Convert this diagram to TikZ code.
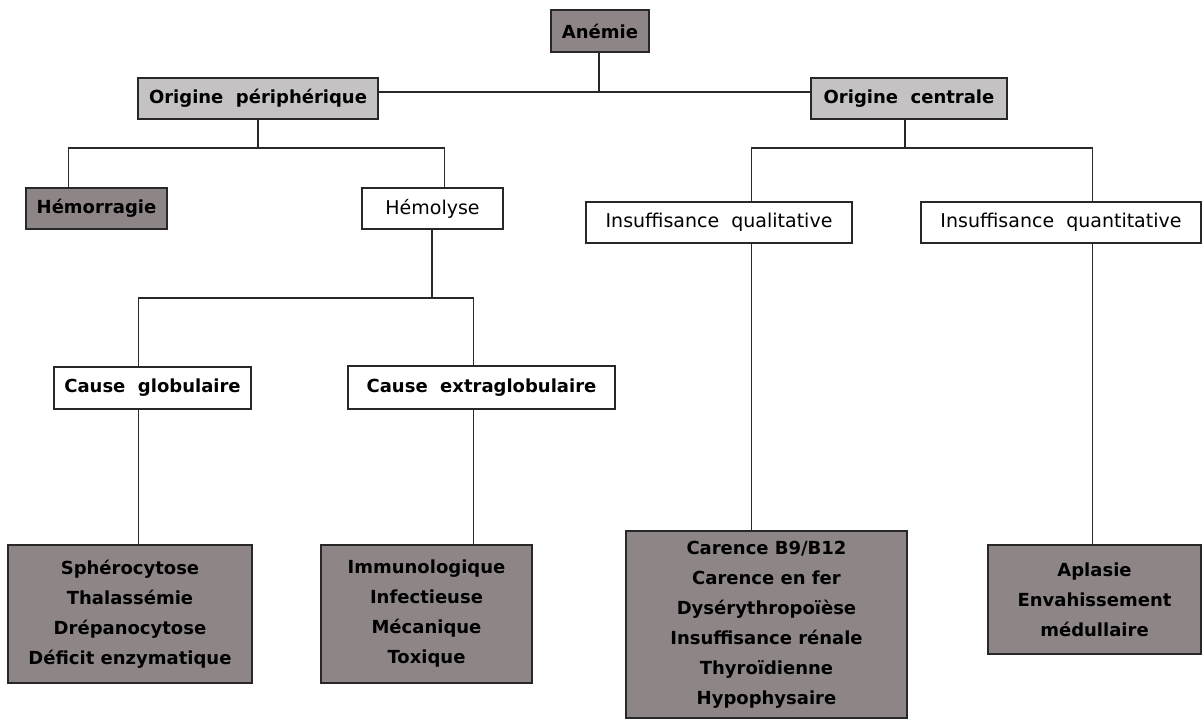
\documentclass[tikz,border=0pt]{standalone}
\usepackage{fontspec}
\usetikzlibrary{calc}
\setmainfont{DejaVu Sans}
\definecolor{darkbox}{RGB}{142,134,134}
\definecolor{lightbox}{RGB}{196,194,194}
\definecolor{linec}{RGB}{40,40,40}
\begin{document}
\begin{tikzpicture}[x=1pt,y=-1pt,
  box/.style={draw=linec,line width=1.4pt,rectangle,inner sep=0pt,align=center,text=black},
  darkb/.style={box,fill=darkbox,font=\fontsize{18}{30}\selectfont\bfseries},
  lightb/.style={box,fill=lightbox,font=\fontsize{18}{30}\selectfont\bfseries},
  whiteb/.style={box,fill=white,font=\fontsize{19}{30}\selectfont},
  causeb/.style={box,fill=white,font=\fontsize{18}{30}\selectfont\bfseries},
  listb/.style={box,fill=darkbox,font=\fontsize{18}{30}\selectfont\bfseries},
  conn/.style={draw=linec,line width=1.1pt}]
\useasboundingbox (0,0) rectangle (1203,719);
\fill[white] (0,0) rectangle (1203,719);

\node[darkb,minimum width=98pt,minimum height=42pt] (anemie) at (600,31) {Anémie};
\node[lightb,minimum width=240pt,minimum height=41pt] (operi) at (258,98.5) {Origine\ \ périphérique};
\node[lightb,minimum width=196pt,minimum height=41pt] (ocent) at (909,98.5) {Origine\ \ centrale};
\node[darkb,minimum width=141pt,minimum height=41pt] (hemor) at (96.5,208.5) {Hémorragie};
\node[whiteb,minimum width=141pt,minimum height=41pt] (hemol) at (432.5,208.5) {Hémolyse};
\node[whiteb,minimum width=266pt,minimum height=41pt] (iqual) at (719,222.5) {Insuffisance\ \ qualitative};
\node[whiteb,minimum width=280pt,minimum height=41pt] (iquant) at (1061,222.5) {Insuffisance\ \ quantitative};
\node[causeb,minimum width=197pt,minimum height=42pt] (cglob) at (152.5,388) {Cause\ \ globulaire};
\node[causeb,minimum width=267pt,minimum height=43pt] (cextra) at (481.5,387.5) {Cause\ \ extraglobulaire};
\node[listb,minimum width=244pt,minimum height=138pt] (sphero) at (130,614) {Sphérocytose\\Thalassémie\\Drépanocytose\\Déficit\ enzymatique};
\node[listb,minimum width=211pt,minimum height=138pt] (immuno) at (426.5,614) {Immunologique\\Infectieuse\\Mécanique\\Toxique};
\node[listb,minimum width=281pt,minimum height=187pt] (carence) at (766.5,624.5) {Carence\ B9/B12\\Carence\ en\ fer\\Dysérythropoïèse\\Insuffisance\ rénale\\Thyroïdienne\\Hypophysaire};
\node[listb,minimum width=213pt,minimum height=109pt] (aplasie) at (1094.5,599.5) {Aplasie\\Envahissement\\médullaire};

% junctions
\coordinate (j1) at (599,92);
\coordinate (j2) at (258,148);
\coordinate (j3) at (432,298);
\coordinate (j4) at (905,148);

\draw[conn] (anemie.south -| j1) -- (j1);
\draw[conn] (j1 -| operi.east) -- (j1 -| ocent.west);

\draw[conn] (operi.south) -- (j2);
\draw[conn] (j2) -| ($(hemor.north west)+(43,0)$);
\draw[conn] (j2) -| ($(hemol.north west)+(83,0)$);

\draw[conn] (hemol.south -| j3) -- (j3);
\draw[conn] (j3) -| ($(cglob.north west)+(85,0)$);
\draw[conn] (j3) -| ($(cextra.north west)+(126,0)$);
\draw[conn] ($(cglob.south west)+(85,0)$) -- ($(sphero.north west)+(131,0)$);
\draw[conn] ($(cextra.south west)+(126,0)$) -- ($(immuno.north west)+(153,0)$);

\draw[conn] (ocent.south -| j4) -- (j4);
\draw[conn] (j4) -| ($(iqual.north west)+(166,0)$);
\draw[conn] (j4) -| ($(iquant.north west)+(172,0)$);
\draw[conn] ($(iqual.south west)+(166,0)$) -- ($(carence.north west)+(126,0)$);
\draw[conn] ($(iquant.south west)+(172,0)$) -- ($(aplasie.north west)+(105,0)$);
\end{tikzpicture}
\end{document}
